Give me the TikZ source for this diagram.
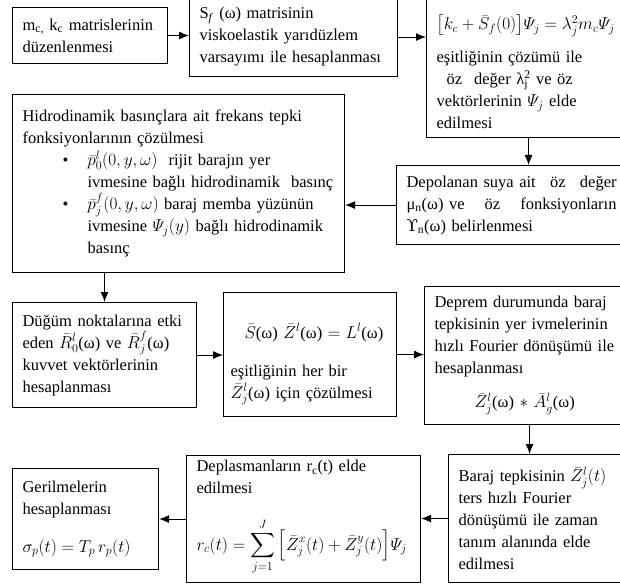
\documentclass[tikz,border=0pt]{standalone}
\usepackage{amsmath}
\usepackage{fontspec}
\setmainfont{Liberation Serif}
\newfontfamily\dejavu{DejaVu Serif}
\usetikzlibrary{arrows.meta}
\newcommand{\kutufont}{\fontsize{16.5}{22}\selectfont\relpenalty 10000\binoppenalty 10000\hyphenpenalty 10000\relax}

\begin{document}
\begin{tikzpicture}[x=1pt, y=-1pt,
    kutu/.style={draw, line width=1.1pt, anchor=north west, align=left, inner xsep=10pt,
        font=\kutufont},
    ok/.style={-{Latex[length=10pt,width=8pt]}, line width=1pt}]
    \useasboundingbox (0,0) rectangle (620,585);

    % ust satir
    \node[kutu, text width=135pt, minimum height=56pt] (matris) at (12,7)
        {m\textsubscript{c,} k\textsubscript{c} matrislerinin\\düzenlenmesi};
    \node[kutu, text width=188pt, minimum height=79pt] (sf) at (189,-3)
        {S\textsubscript{\textit{f}} (ω) matrisinin\\viskoelastik yarıdüzlem\\varsayımı ile hesaplanması};
    \node[kutu, inner ysep=0pt, text width=184pt, minimum height=140pt] (ozdeger) at (426,-3)
        {\rule{0pt}{24pt}$\big[k_c+\bar{S}_f(0)\big]\varPsi_j = \lambda_j^2 m_c \varPsi_j$\\[11pt]
         eşitliğinin çözümü ile\\
         \hspace*{10pt}öz\hspace{12pt}değer λ\rlap{\textsubscript{j}}\textsuperscript{2} ve öz\\
         vektörlerinin $\varPsi_j$ elde\\
         edilmesi};

    % ikinci satir
    \node[kutu, text width=312pt, minimum height=178pt] (hidro) at (12,94)
        {Hidrodinamik basınçlara ait frekans tepki\\
         fonksiyonlarının çözülmesi\\
         \hspace*{40pt}\textbullet\hspace*{19pt}$\bar{p}_0^l(0,y,\omega)$\ \ rijit~barajın~yer\\
         \hspace*{65pt}ivmesine~bağlı~hidrodinamik~~basınç\\
         \hspace*{40pt}\textbullet\hspace*{19pt}$\bar{p}_j^f(0,y,\omega)$ baraj~memba~yüzünün\\
         \hspace*{65pt}ivmesine~$\varPsi_j(y)$~bağlı~hidrodinamik\\
         \hspace*{65pt}basınç};
    \node[kutu, text width=210pt, minimum height=79pt] (depo) at (396,165)
        {Depolanan suya ait\hfill öz\hfill değer\\
         μ\textsubscript{n}(ω) ve\hfill öz\hfill fonksiyonların\\
         {\dejavu ϒ}\textsubscript{n}(ω) belirlenmesi};

    % ucuncu satir
    \node[kutu, text width=164pt, minimum height=105pt] (dugum) at (12,302)
        {Düğüm~noktalarına~etki\\
         eden $\bar{R}_0^l$(ω)~ve~$\bar{R}_j^f$(ω)\\
         kuvvet vektörlerinin\\
         hesaplanması};
    \node[kutu, inner xsep=7pt, text width=159pt, minimum height=124pt] (esitlik) at (223,292)
        {\rule{0pt}{34pt}\hspace*{14pt}$\bar{S}$(ω) $\bar{Z}^l$(ω) $=$ $L^l$(ω)\\[16pt]
         eşitliğinin her bir\\
         $\bar{Z}_j^l$(ω) için çözülmesi};
    \node[kutu, text width=190pt, minimum height=138pt] (deprem) at (424,286)
        {Deprem~durumunda~baraj\\
         tepkisinin~yer~ivmelerinin\\
         hızlı~Fourier~dönüşümü~ile\\
         hesaplanması\\[12pt]
         \hspace*{40pt}$\bar{Z}_j^l$(ω) $*$ $\bar{A}_g^l$(ω)};

    % alt satir
    \node[kutu, text width=160pt, minimum height=128pt] (ters) at (448,454)
        {Baraj~tepkisinin~$\bar{Z}_j^l(t)$\\
         ters hızlı Fourier\\
         dönüşümü ile zaman\\
         tanım alanında elde\\
         edilmesi};
    \node[kutu, inner ysep=0pt, text width=214pt, minimum height=127pt] (deplasman) at (186,455)
        {Deplasmanların r\textsubscript{c}(t) elde\\
         edilmesi\\[24pt]
         $r_c(t) = \displaystyle\sum_{j=1}^{J}\Big[\bar{Z}_j^x(t)+\bar{Z}_j^y(t)\Big]\varPsi_j$\rule[-28pt]{0pt}{28pt}};
    \node[kutu, text width=126pt, minimum height=101pt] (gerilme) at (12,468)
        {Gerilmelerin\\
         hesaplanması\\[16pt]
         $\sigma_p(t) = T_p\, r_p(t)$};

    % baglantilar
    \draw[ok] (matris.east) -- (matris.east -| sf.west);
    \draw[ok] (sf.east) -- (sf.east -| ozdeger.west);
    \draw[ok] (ozdeger.south) -- (ozdeger.south |- depo.north);
    \draw[ok] (depo.west) -- (depo.west -| hidro.east);
    \draw[ok] (hidro.south -| dugum.north) -- (dugum.north);
    \draw[ok] (dugum.east) -- (dugum.east -| esitlik.west);
    \draw[ok] (esitlik.east) -- (esitlik.east -| deprem.west);
    \draw[ok] (deprem.south) -- (deprem.south |- ters.north);
    \draw[ok] (ters.west) -- (ters.west -| deplasman.east);
    \draw[ok] (deplasman.west) -- (deplasman.west -| gerilme.east);
\end{tikzpicture}
\end{document}
